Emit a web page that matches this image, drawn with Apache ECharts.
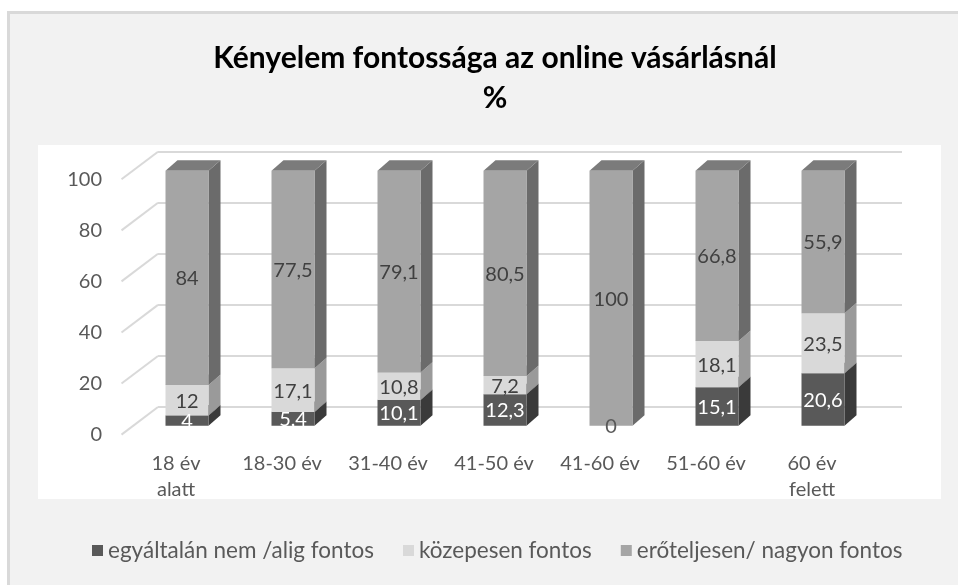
<!DOCTYPE html>
<html>
<head>
<meta charset="utf-8">
<script src="https://cdn.jsdelivr.net/npm/echarts@6/dist/echarts.min.js"></script>
<style>
html,body{margin:0;padding:0;background:#fff;}
#chart{width:958px;height:585px;}
</style>
</head>
<body>
<div id="chart"></div>
<script>
// ---- data ----
var categories = ['18 év\nalatt', '18-30 év', '31-40 év', '41-50 év', '41-60 év', '51-60 év', '60 év\nfelett'];
var seriesNames = ['egyáltalán nem /alig fontos', 'közepesen fontos', 'erőteljesen/ nagyon fontos'];
var notImportant = [4, 5.4, 10.1, 12.3, 0, 15.1, 20.6];
var medium = [12, 17.1, 10.8, 7.2, 0, 18.1, 23.5];
var veryImportant = [84, 77.5, 79.1, 80.5, 100, 66.8, 55.9];
var yTicks = [0, 20, 40, 60, 80, 100];

// ---- style ----
var FONT = 'Lato';
var BAR_W = 43;
var BAR_DX = 12, BAR_DY = 10.5;       // bar depth
var WALL_DX = 36.5, WALL_DY = 27.6;   // floor depth (front floor -> back wall)
var faces = [
  {front: '#595959', side: '#3a3a3a', top: '#474747', label: '#ffffff', showZero: true},
  {front: '#d9d9d9', side: '#9a9a9a', top: '#b8b8b8', label: '#404040', showZero: false},
  {front: '#a5a5a5', side: '#6b6b6b', top: '#7b7b7b', label: '#404040', showZero: true}
];
var valueSets = [notImportant, medium, veryImportant];

function fmt(v) { return String(v).replace('.', ','); }

// build stacked [index, start, end, value]
var stacked = valueSets.map(function () { return []; });
categories.forEach(function (c, i) {
  var acc = 0;
  valueSets.forEach(function (arr, s) {
    var v = arr[i];
    stacked[s].push([i, acc, acc + v, v]);
    acc += v;
  });
});

function barRenderer(s) {
  var f = faces[s];
  return function (params, api) {
    var i = api.value(0), y0 = api.value(1), y1 = api.value(2), v = api.value(3);
    var pb = api.coord([i, y0]);
    var pt = api.coord([i, y1]);
    var x0 = pb[0] - BAR_W / 2, x1 = pb[0] + BAR_W / 2;
    var yb = pb[1], yt = pt[1];
    var children = [];
    if (yb - yt > 0.01) {
      children.push({type: 'polygon', shape: {points: [[x1, yt], [x1 + BAR_DX, yt - BAR_DY], [x1 + BAR_DX, yb - BAR_DY], [x1, yb]]}, style: {fill: f.side}});
      children.push({type: 'polygon', shape: {points: [[x0, yt], [x1, yt], [x1 + BAR_DX, yt - BAR_DY], [x0 + BAR_DX, yt - BAR_DY]]}, style: {fill: f.top}});
      children.push({type: 'rect', shape: {x: x0, y: yt, width: BAR_W, height: yb - yt}, style: {fill: f.front}});
    }
    if (v !== 0 || f.showZero) {
      children.push({type: 'text', z2: 10, style: {
        x: pb[0], y: (yb + yt) / 2 + 1, text: fmt(v), align: 'center', verticalAlign: 'middle',
        fill: v === 0 ? '#595959' : f.label, font: '20px ' + FONT
      }});
    }
    return {type: 'group', children: children};
  };
}

var chart = echarts.init(document.getElementById('chart'), null, {renderer: 'canvas'});

var series = [];
// diagonal floor lines from front floor to back wall
series.push({
  type: 'custom', xAxisIndex: 2, yAxisIndex: 2, silent: true, z: 1,
  data: yTicks.map(function (t) { return [0, t]; }),
  renderItem: function (params, api) {
    var p = api.coord([0, api.value(1)]);
    return {type: 'line', shape: {x1: p[0] - WALL_DX, y1: p[1] + WALL_DY, x2: p[0], y2: p[1]},
      style: {stroke: '#d9d9d9', lineWidth: 2}};
  }
});
seriesNames.forEach(function (name, s) {
  series.push({
    type: 'custom', name: name, xAxisIndex: 0, yAxisIndex: 0, z: 3,
    itemStyle: {color: faces[s].front},
    data: stacked[s],
    encode: {x: 0, y: [1, 2]},
    renderItem: barRenderer(s)
  });
});

var option = {
  backgroundColor: '#ffffff',
  animation: false,
  graphic: [
    {type: 'rect', z: -10, silent: true, shape: {x: 8.5, y: 12.5, width: 960, height: 600}, style: {fill: '#f2f2f2', stroke: '#d9d9d9', lineWidth: 3}},
    {type: 'rect', z: -9, silent: true, shape: {x: 38, y: 145, width: 903, height: 354}, style: {fill: '#ffffff'}}
  ],
  title: {
    text: 'Kényelem fontossága az online vásárlásnál\n%',
    left: 490, top: 33, textAlign: 'center',
    textStyle: {fontFamily: FONT, fontWeight: 'bold', fontSize: 30, color: '#000000', lineHeight: 40}
  },
  legend: {
    orient: 'horizontal', top: 539, left: 92, width: 860, padding: 0,
    itemWidth: 11, itemHeight: 11, itemGap: 29,
    icon: 'rect',
    data: seriesNames,
    textStyle: {fontFamily: FONT, fontSize: 22.5, color: '#595959'}
  },
  grid: [
    {left: 134, right: 82, top: 170.7, bottom: 159.3},   // bar plane
    {left: 123, right: 93, top: 179.3, bottom: 150},     // front floor (labels)
    {left: 158, right: 56, top: 151.7, bottom: 178}      // back wall
  ],
  xAxis: [
    {gridIndex: 0, type: 'category', data: categories, show: false},
    {gridIndex: 1, type: 'category', data: categories,
      axisLine: {show: false}, axisTick: {show: false},
      axisLabel: {interval: 0, margin: 16, fontFamily: FONT, fontSize: 20, color: '#595959', lineHeight: 26}},
    {gridIndex: 2, type: 'value', min: 0, max: 1, show: false}
  ],
  yAxis: [
    {gridIndex: 0, type: 'value', min: 0, max: 100, interval: 20, show: false},
    {gridIndex: 1, type: 'value', min: 0, max: 100, interval: 20,
      axisLine: {show: false}, axisTick: {show: false}, splitLine: {show: false},
      axisLabel: {margin: 21, fontFamily: FONT, fontSize: 20, color: '#595959'}},
    {gridIndex: 2, type: 'value', min: 0, max: 100, interval: 20,
      axisLine: {show: false}, axisTick: {show: false}, axisLabel: {show: false},
      splitLine: {lineStyle: {color: '#d9d9d9', width: 2}}}
  ],
  series: series
};
chart.setOption(option);
</script>
</body>
</html>
